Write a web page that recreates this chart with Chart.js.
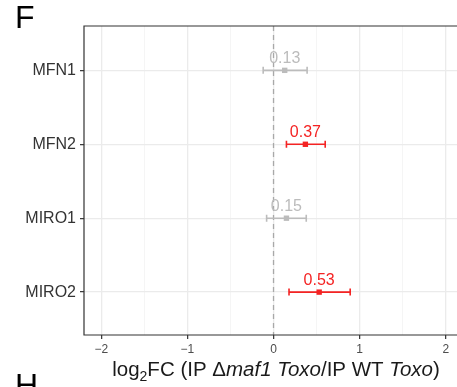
<!DOCTYPE html>
<html>
<head>
<meta charset="utf-8">
<script src="https://cdn.jsdelivr.net/npm/chart.js@4"></script>
<style>
  body { margin: 0; background: #fff; }
  canvas { display: block; }
</style>
</head>
<body>
<canvas id="myChart" width="457" height="387"></canvas>
<script>
// values
const genes = ['MFN1', 'MFN2', 'MIRO1', 'MIRO2'];
const log2fc = [0.13, 0.37, 0.15, 0.53];
const ciLow = [-0.12, 0.15, -0.08, 0.18];
const ciHigh = [0.39, 0.60, 0.38, 0.89];
const significant = [false, true, false, true];
const xMajorTicks = [-2, -1, 0, 1, 2];
const xMinorTicks = [-1.5, -0.5, 0.5, 1.5];

const RED = '#f42323';
const GREY = '#bcbcbc';
const colorOf = i => significant[i] ? RED : GREY;

const points = log2fc.map((v, i) => ({ x: v, y: i + 1 }));

// error bars, zero line, panel border and value labels
const forestPlugin = {
    id: 'forest',
    beforeDatasetsDraw(chart) {
        const { ctx, chartArea: a, scales: { x, y } } = chart;
        ctx.save();
        // dashed zero line
        ctx.strokeStyle = '#a8a8a8';
        ctx.lineWidth = 1.3;
        ctx.setLineDash([5, 4]);
        ctx.beginPath();
        ctx.moveTo(x.getPixelForValue(0), a.top);
        ctx.lineTo(x.getPixelForValue(0), a.bottom);
        ctx.stroke();
        ctx.setLineDash([]);

        // error bars
        genes.forEach((g, i) => {
            const py = y.getPixelForValue(i + 1);
            const x0 = x.getPixelForValue(ciLow[i]);
            const x1 = x.getPixelForValue(ciHigh[i]);
            ctx.strokeStyle = colorOf(i);
            ctx.lineWidth = 1.6;
            ctx.beginPath();
            ctx.moveTo(x0, py); ctx.lineTo(x1, py);
            ctx.moveTo(x0, py - 3.5); ctx.lineTo(x0, py + 3.5);
            ctx.moveTo(x1, py - 3.5); ctx.lineTo(x1, py + 3.5);
            ctx.stroke();
        });

        // panel border (right side is cut off in the figure)
        ctx.strokeStyle = '#333';
        ctx.lineWidth = 1.2;
        ctx.beginPath();
        ctx.moveTo(chart.width, a.top);
        ctx.lineTo(a.left, a.top);
        ctx.lineTo(a.left, a.bottom);
        ctx.lineTo(chart.width, a.bottom);
        ctx.stroke();
        ctx.restore();
    },
    afterDatasetsDraw(chart) {
        const { ctx, scales: { x, y } } = chart;
        ctx.save();
        ctx.font = '16px "Liberation Sans", Arial, sans-serif';
        ctx.textAlign = 'center';
        ctx.textBaseline = 'alphabetic';
        genes.forEach((g, i) => {
            ctx.fillStyle = colorOf(i);
            ctx.fillText(log2fc[i].toFixed(2), x.getPixelForValue(log2fc[i]), y.getPixelForValue(i + 1) - 7);
        });
        ctx.restore();
    },
    afterDraw(chart) {
        const { ctx } = chart;
        ctx.save();
        ctx.fillStyle = '#000';
        ctx.textBaseline = 'alphabetic';
        ctx.textAlign = 'left';
        ctx.font = '32px "Liberation Sans", Arial, sans-serif';
        ctx.fillText('F', 15, 28);
        ctx.fillText('H', 15, 396);

        // x axis title with subscript and italics
        const base = 376;
        const normal = '20.5px "Liberation Sans", Arial, sans-serif';
        const italic = 'italic 20.5px "Liberation Sans", Arial, sans-serif';
        const small = '14px "Liberation Sans", Arial, sans-serif';
        const parts = [
            ['log', normal, 0], ['2', small, 5], ['FC (IP \u0394', normal, 0],
            ['maf1 Toxo', italic, 0], ['/IP WT ', normal, 0], ['Toxo', italic, 0], [')', normal, 0]
        ];
        let total = 0;
        parts.forEach(p => { ctx.font = p[1]; total += ctx.measureText(p[0]).width; });
        let cx = 276 - total / 2;
        ctx.fillStyle = '#1a1a1a';
        parts.forEach(p => {
            ctx.font = p[1];
            ctx.fillText(p[0], cx, base + p[2]);
            cx += ctx.measureText(p[0]).width;
        });
        ctx.restore();
    }
};

const ctx = document.getElementById('myChart').getContext('2d');

const forestChart = new Chart(ctx, {
    type: 'scatter',
    data: {
        datasets: [{
            data: points,
            pointStyle: 'rect',
            pointRadius: 3.8,
            pointBackgroundColor: genes.map((g, i) => colorOf(i)),
            pointBorderColor: genes.map((g, i) => colorOf(i)),
            pointBorderWidth: 0,
        }],
    },
    options: {
        responsive: false,
        devicePixelRatio: 1,
        animation: false,
        events: [],
        layout: { autoPadding: false, padding: { top: 26, left: 0, right: 0, bottom: 0 } },
        plugins: { legend: { display: false }, tooltip: { enabled: false } },
        scales: {
            x: {
                type: 'linear',
                min: -2.2,
                max: 2.13,
                afterBuildTicks: scale => {
                    scale.ticks = xMajorTicks.concat(xMinorTicks).sort((a, b) => a - b).map(v => ({ value: v }));
                },
                afterFit: scale => { scale.height = 52; },
                border: { display: false },
                grid: {
                    color: c => Number.isInteger(c.tick.value) ? '#ebebeb' : '#f2f2f2',
                    lineWidth: c => Number.isInteger(c.tick.value) ? 1.3 : 0.8,
                    tickColor: c => Number.isInteger(c.tick.value) ? '#333' : 'rgba(0,0,0,0)',
                    tickWidth: 1.2,
                    tickLength: 4,
                },
                ticks: {
                    autoSkip: false,
                    maxRotation: 0,
                    padding: 3,
                    color: '#4d4d4d',
                    font: { family: '"Liberation Sans", Arial, sans-serif', size: 12 },
                    callback: v => Number.isInteger(v) ? String(v).replace('-', '\u2212') : '',
                },
            },
            y: {
                type: 'linear',
                reverse: true,
                min: 0.4,
                max: 4.58,
                afterBuildTicks: scale => {
                    scale.ticks = genes.map((g, i) => ({ value: i + 1 }));
                },
                afterFit: scale => { scale.width = 84; },
                border: { display: false },
                grid: {
                    color: '#ebebeb',
                    lineWidth: 1.3,
                    tickColor: '#333',
                    tickWidth: 1.2,
                    tickLength: 4,
                },
                ticks: {
                    autoSkip: false,
                    padding: 4,
                    color: '#333',
                    font: { family: '"Liberation Sans", Arial, sans-serif', size: 16 },
                    callback: v => genes[v - 1],
                },
            },
        },
    },
    plugins: [forestPlugin],
});
</script>
</body>
</html>
